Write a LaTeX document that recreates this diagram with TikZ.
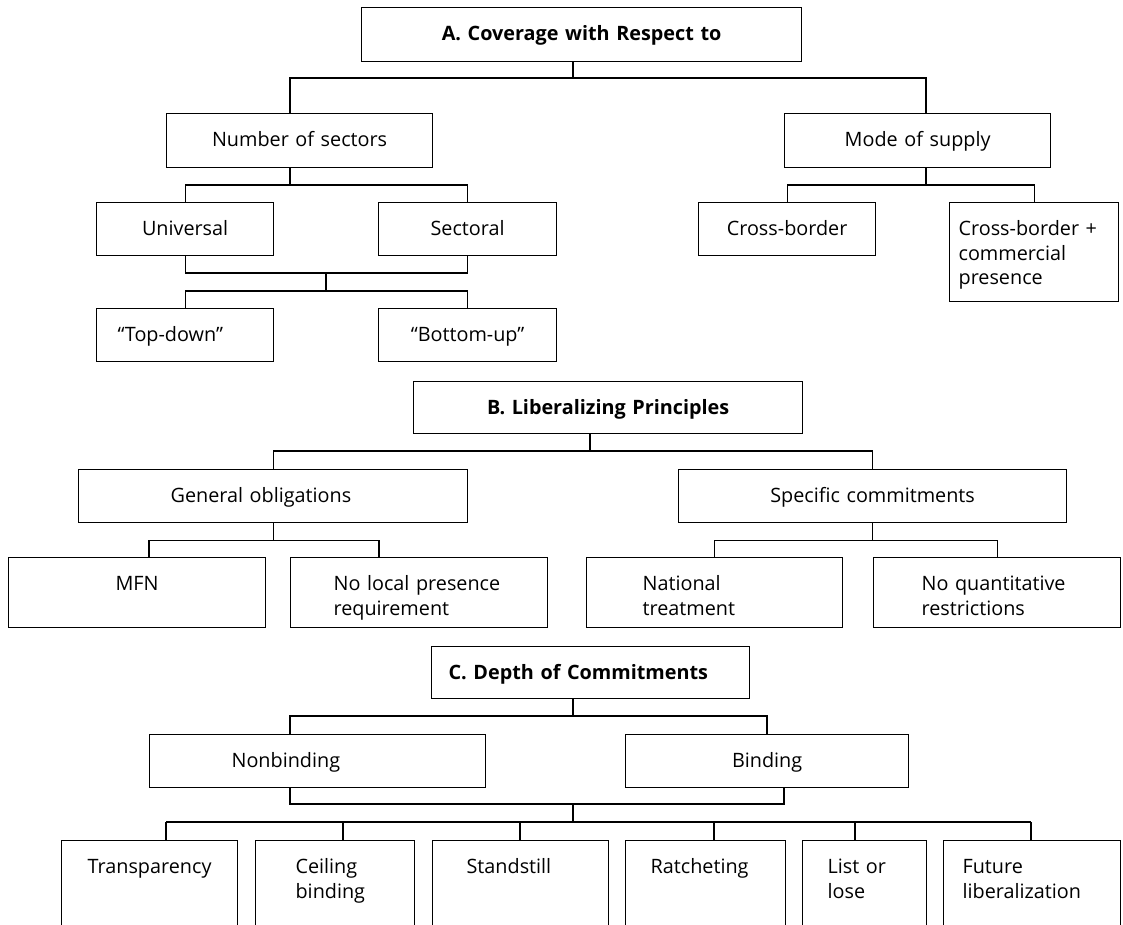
\documentclass[tikz,border=0pt]{standalone}
\usepackage{fontspec}
\setmainfont{Open Sans}

\begin{document}
\begin{tikzpicture}[
    x=0.5pt, y=-0.5pt, line width=0.6pt,
    box/.style={rectangle, draw=black, anchor=north west, inner ysep=0pt,
        text height=16.5pt, font=\fontsize{9.9pt}{12.25pt}\selectfont, text=black},
    centre/.style={box, align=center, inner xsep=0pt, text width=#1},
    lefty/.style 2 args={box, align=left, inner xsep=#1, text width=#2},
    head/.style={font=\fontsize{9.9pt}{12.25pt}\selectfont\bfseries},
    leaf/.style={text depth=33.5pt}
]
\useasboundingbox (0,0) rectangle (1123,925);
\clip (0,0) rectangle (1123,925);

% A. coverage
\node (A) [centre=220pt, head, text depth=10.5pt] at (361,7) {A. Coverage with Respect to};
\node (nsec) [centre=133pt, text depth=10.5pt] at (166,113) {Number of sectors};
\node (mode) [centre=133pt, text depth=10.5pt] at (784,113) {Mode of supply};
\node (univ) [centre=88.5pt, text depth=10pt] at (96,202) {Universal};
\node (sect) [centre=89pt, text depth=10pt] at (378,202) {Sectoral};
\node (topd) [lefty={10.5pt}{67.5pt}, text depth=10pt] at (96,308) {“Top-down”};
\node (botu) [centre=89pt, text depth=10pt] at (378,308) {“Bottom-up”};
\node (cross) [centre=88.5pt, text depth=10pt] at (698,202) {Cross-border};
\node (crossc) [lefty={4.5pt}{75.5pt}, text depth=33pt] at (949,202) {Cross-border +\\commercial\\presence};

% B. principles
\node (B) [centre=194.5pt, head, text depth=9.5pt] at (413,381) {B. Liberalizing Principles};
\node (genob) [lefty={46pt}{102.5pt}, text depth=10pt] at (78,469) {General obligations};
\node (specc) [centre=194pt, text depth=10pt] at (678,469) {Specific commitments};
\node (mfn) [centre=128.5pt, text depth=18.5pt] at (8,557) {MFN};
\node (noloc) [lefty={21.5pt}{85.5pt}, text depth=18.5pt] at (290,557) {No local presence\\requirement};
\node (natl) [lefty={28pt}{72pt}, text depth=18.5pt] at (586,557) {National\\treatment};
\node (noqua) [lefty={24pt}{75.5pt}, text depth=18.5pt] at (873,557) {No quantitative\\restrictions};

% C. depth
\node (C) [lefty={8.5pt}{142pt}, head, text depth=9.5pt] at (431,646) {C. Depth of Commitments};
\node (nonb) [lefty={41pt}{86pt}, text depth=10pt] at (149,734) {Nonbinding};
\node (bind) [centre=141.5pt, text depth=10pt] at (625,734) {Binding};
\node (transp) [centre=88pt, leaf] at (61,840) {Transparency};
\node (ceil) [lefty={20pt}{39.5pt}, leaf] at (255,840) {Ceiling\\binding};
\node (stand) [lefty={17pt}{54pt}, leaf] at (432,840) {Standstill};
\node (ratch) [lefty={12.5pt}{55pt}, leaf] at (625,840) {Ratcheting};
\node (listl) [lefty={12.5pt}{37pt}, leaf] at (802,840) {List or\\lose};
\node (futur) [lefty={9.5pt}{69.5pt}, leaf] at (943,840) {Future\\liberalization};

% connectors
\draw (A.south -| 573,0) -- (573,78) -| (nsec.north -| 290,0);
\draw (573,78) -| (mode.north -| 926,0);
\draw (nsec.south -| 290,0) -- (290,185) -| (univ.north);
\draw (290,185) -| (sect.north);
\draw (univ.south) |- (326,273) -- (326,291) -| (topd.north);
\draw (sect.south) |- (326,273);
\draw (326,291) -| (botu.north);
\draw (mode.south -| 926,0) -- (926,185) -| (cross.north);
\draw (926,185) -| (crossc.north);

\draw (B.south -| 590,0) -- (590,451) -| (genob.north);
\draw (590,451) -| (specc.north);
\draw (genob.south) -- ++(0,17) -| (mfn.north -| 149,0);
\draw (genob.south) ++(0,17) -| (noloc.north -| 379,0);
\draw (specc.south) -- ++(0,17) -| (natl.north);
\draw (specc.south) ++(0,17) -| (noqua.north);

\draw (C.south -| 573,0) -- (573,716) -| (nonb.north -| 290,0);
\draw (573,716) -| (bind.north -| 767,0);
\draw (nonb.south -| 290,0) |- (573,804) -| (bind.south -| 784,0);
\draw (573,804) -- (573,822);
\draw (166,822) -- (1031,822);
\foreach \n/\x in {transp/166, ceil/343, stand/520, ratch/714, listl/855, futur/1031}
    \draw (\x,822) -- (\n.north -| \x,0);
\end{tikzpicture}
\end{document}
